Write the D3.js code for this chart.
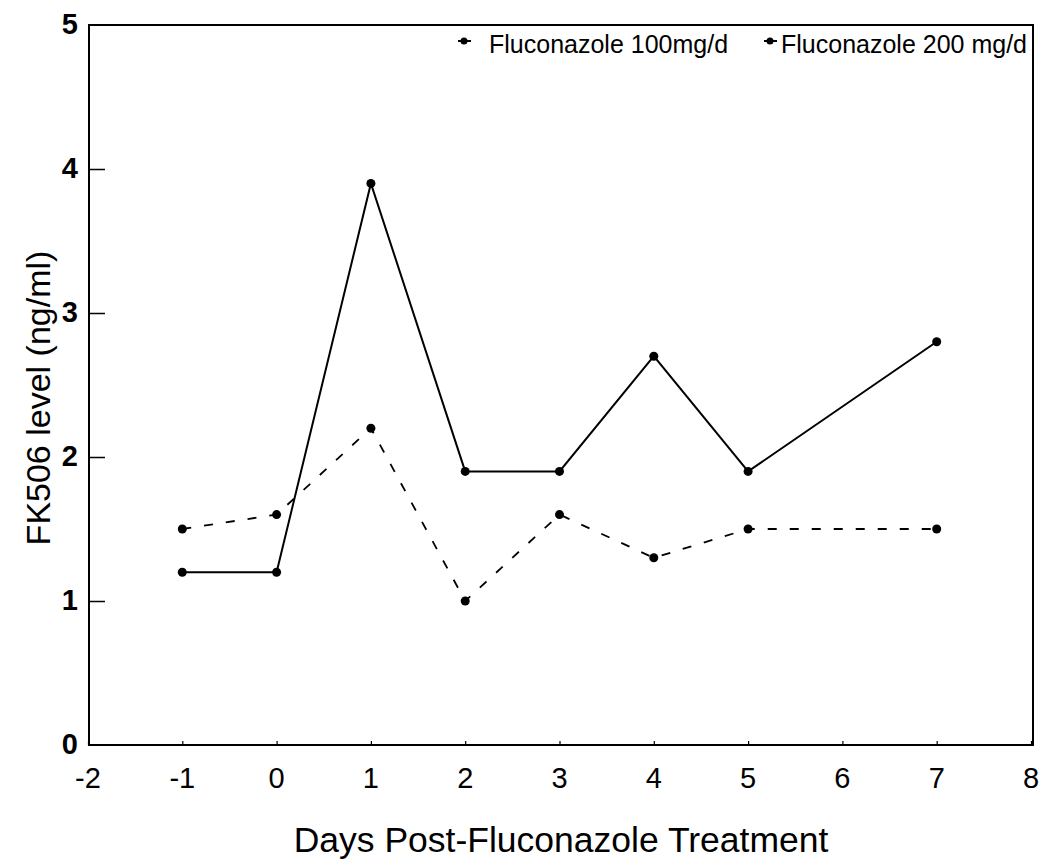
<!DOCTYPE html>
<html><head><meta charset="utf-8">
<script src="https://cdn.jsdelivr.net/npm/d3@7"></script>
<style>body{margin:0;background:#fff}svg{display:block}text{font-family:"Liberation Sans",Arial,sans-serif;fill:#000}</style>
</head><body>
<svg id="c" width="1050" height="867"></svg>
<script>
const days = [-1, 0, 1, 2, 3, 4, 5, 7];
const dose100 = [1.5, 1.6, 2.2, 1.0, 1.6, 1.3, 1.5, 1.5];
const dose200 = [1.2, 1.2, 3.9, 1.9, 1.9, 2.7, 1.9, 2.8];
const seriesNames = ["Fluconazole 100mg/d", "Fluconazole 200 mg/d"];
const xTicks = [-2, -1, 0, 1, 2, 3, 4, 5, 6, 7, 8];
const yTicks = [0, 1, 2, 3, 4, 5];

const svg = d3.select("#c");
const x = d3.scaleLinear().domain([-2, 8]).range([88, 1031]);
const y = d3.scaleLinear().domain([0, 5]).range([745, 25]);

// frame
svg.append("rect").attr("x", 89).attr("y", 25).attr("width", 1033 - 89).attr("height", 745 - 25)
  .attr("fill", "none").attr("stroke", "#000").attr("stroke-width", 2);

// y axis
const ya = svg.append("g").attr("transform", "translate(89,0)")
  .call(d3.axisRight(y).tickValues(yTicks).tickSize(16).tickFormat(""));
ya.select(".domain").remove();
ya.selectAll("line").attr("stroke", "#000").attr("stroke-width", 1.5);
ya.selectAll(".tick").filter(d => d === 0 || d === 5).select("line").remove();
svg.append("g").selectAll("text").data(yTicks).join("text")
  .attr("x", 78).attr("y", d => y(d) + 9).attr("text-anchor", "end")
  .attr("font-size", 29).attr("font-weight", "bold").text(d => d);

// x axis
const xa = svg.append("g").attr("transform", "translate(0,745)")
  .call(d3.axisTop(x).tickValues(xTicks).tickSize(4).tickFormat(""));
xa.select(".domain").remove();
xa.selectAll("line").attr("stroke", "#000").attr("stroke-width", 1.2);
svg.append("g").selectAll("text").data(xTicks).join("text")
  .attr("x", d => x(d)).attr("y", 788).attr("text-anchor", "middle")
  .attr("font-size", 29).text(d => d);

svg.append("text").attr("x", 561).attr("y", 852).attr("text-anchor", "middle")
  .attr("font-size", 35.5).text("Days Post-Fluconazole Treatment");
svg.append("text").attr("transform", "translate(50,398) rotate(-90)").attr("text-anchor", "middle")
  .attr("font-size", 34).text("FK506 level (ng/ml)");

const line = d3.line().x(d => x(d[0])).y(d => y(d[1]));
const d100 = days.map((d, i) => [d, dose100[i]]);
const d200 = days.map((d, i) => [d, dose200[i]]);

svg.append("path").datum(d100).attr("d", line).attr("fill", "none")
  .attr("stroke", "#000").attr("stroke-width", 1.8).attr("stroke-dasharray", "9,13");
svg.append("path").datum(d200).attr("d", line).attr("fill", "none")
  .attr("stroke", "#000").attr("stroke-width", 2);

[d100, d200].forEach(ds => {
  svg.append("g").selectAll("circle").data(ds).join("circle")
    .attr("cx", d => x(d[0])).attr("cy", d => y(d[1])).attr("r", 4.5).attr("fill", "#000");
});

// legend
const lg = [{x: 458, tx: 489, name: seriesNames[0]}, {x: 764, tx: 781, name: seriesNames[1]}];
lg.forEach(l => {
  svg.append("line").attr("x1", l.x).attr("x2", l.x + 13).attr("y1", 41).attr("y2", 41)
    .attr("stroke", "#000").attr("stroke-width", 2);
  svg.append("circle").attr("cx", l.x + 6).attr("cy", 41).attr("r", 3.5).attr("fill", "#000");
  svg.append("text").attr("x", l.tx).attr("y", 53).attr("font-size", 25).text(l.name);
});
</script>
</body></html>
